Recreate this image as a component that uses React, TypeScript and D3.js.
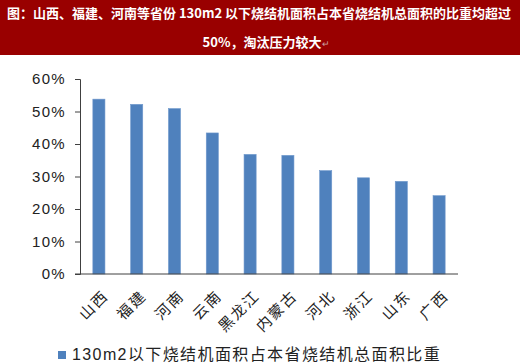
import React, { useEffect, useRef } from 'react';
import * as d3 from 'd3';

const provinces = ['山西', '福建', '河南', '云南', '黑龙江', '内蒙古', '河北', '浙江', '山东', '广西'];
const shares = [0.538, 0.522, 0.509, 0.434, 0.368, 0.365, 0.318, 0.296, 0.285, 0.241];
const yTicks = [0, 0.1, 0.2, 0.3, 0.4, 0.5, 0.6];
const seriesName = '130m2以下烧结机面积占本省烧结机总面积比重';
const titleLines = [
  '图：山西、福建、河南等省份 130m2 以下烧结机面积占本省烧结机总面积的比重均超过',
  '50%，淘汰压力较大',
];

const FONT = '"Liberation Sans", Arial, "Noto Sans CJK SC", sans-serif';

export default function App() {
  const ref = useRef<SVGSVGElement>(null);

  useEffect(() => {
    const W = 520;
    const H = 364;
    const margin = { top: 79, right: 62, bottom: 90, left: 80 };

    const svg = d3.select(ref.current);
    svg.selectAll('*').remove();

    // title band
    svg.append('rect')
      .attr('width', W)
      .attr('height', 55)
      .attr('fill', '#990000');

    svg.selectAll('.title')
      .data(titleLines)
      .enter()
      .append('text')
        .attr('class', 'title')
        .attr('x', (d, i) => (i === 0 ? W / 2 - 1 : 262))
        .attr('y', (d, i) => (i === 0 ? 18 : 47))
        .attr('text-anchor', 'middle')
        .attr('fill', '#fff')
        .attr('font-weight', 'bold')
        .attr('font-size', 13)
        .attr('font-family', '"Noto Sans CJK SC", sans-serif')
        .text((d) => d);

    svg.append('text')
      .attr('x', 322)
      .attr('y', 47)
      .attr('fill', '#c9a0a0')
      .attr('font-size', 9)
      .attr('font-family', FONT)
      .text('↵');

    const x = d3.scaleBand()
      .domain(provinces)
      .range([margin.left, W - margin.right])
      .paddingInner(0.68)
      .paddingOuter(0.34);

    const y = d3.scaleLinear()
      .domain([0, 0.6])
      .range([H - margin.bottom, margin.top]);

    const g = svg.append('g');

    // bars
    g.selectAll('rect.bar')
      .data(shares)
      .enter()
      .append('rect')
        .attr('class', 'bar')
        .attr('x', (d, i) => x(provinces[i])!)
        .attr('y', (d) => y(d))
        .attr('width', x.bandwidth())
        .attr('height', (d) => y(0) - y(d))
        .attr('fill', '#4f81bd')
        .attr('stroke', '#6f98cc')
        .attr('stroke-width', 0.6);

    // y axis
    const yAxis = g.append('g')
      .attr('transform', `translate(${margin.left},0)`)
      .call(d3.axisLeft(y).tickValues(yTicks).tickFormat(d3.format('.0%')).tickSize(5).tickPadding(9));
    yAxis.select('.domain').attr('stroke', '#404040');
    yAxis.selectAll('.tick line').attr('stroke', '#404040');
    yAxis.selectAll('.tick text')
      .attr('font-size', 15)
      .attr('letter-spacing', 1.3)
      .attr('font-family', FONT)
      .attr('fill', '#222');

    // x axis
    g.append('line')
      .attr('x1', margin.left - 5)
      .attr('x2', W - margin.right)
      .attr('y1', y(0))
      .attr('y2', y(0))
      .attr('stroke', '#404040');

    g.selectAll('text.xlab')
      .data(provinces)
      .enter()
      .append('text')
        .attr('class', 'xlab')
        .attr('transform', (d) => `translate(${x(d)! + x.bandwidth() / 2 + 7},${y(0) + 19}) rotate(-45)`)
        .attr('text-anchor', 'end')
        .attr('dy', '0.35em')
        .attr('font-size', 15)
        .attr('letter-spacing', 2)
        .attr('font-family', '"Noto Sans CJK SC", sans-serif')
        .attr('fill', '#222')
        .text((d) => d);

    // legend
    const legend = svg.append('g').attr('transform', 'translate(58,351)');
    legend.append('rect')
      .attr('width', 8)
      .attr('height', 8)
      .attr('fill', '#4f81bd');
    legend.append('text')
      .attr('x', 14)
      .attr('y', 9)
      .attr('font-size', 16)
      .attr('letter-spacing', 1.4)
      .attr('font-family', FONT)
      .attr('fill', '#222')
      .text(seriesName);
  }, []);

  return (
    <svg
      ref={ref}
      width={520}
      height={364}
      style={{ position: 'absolute', left: 0, top: 0, background: '#fff' }}
    />
  );
}
